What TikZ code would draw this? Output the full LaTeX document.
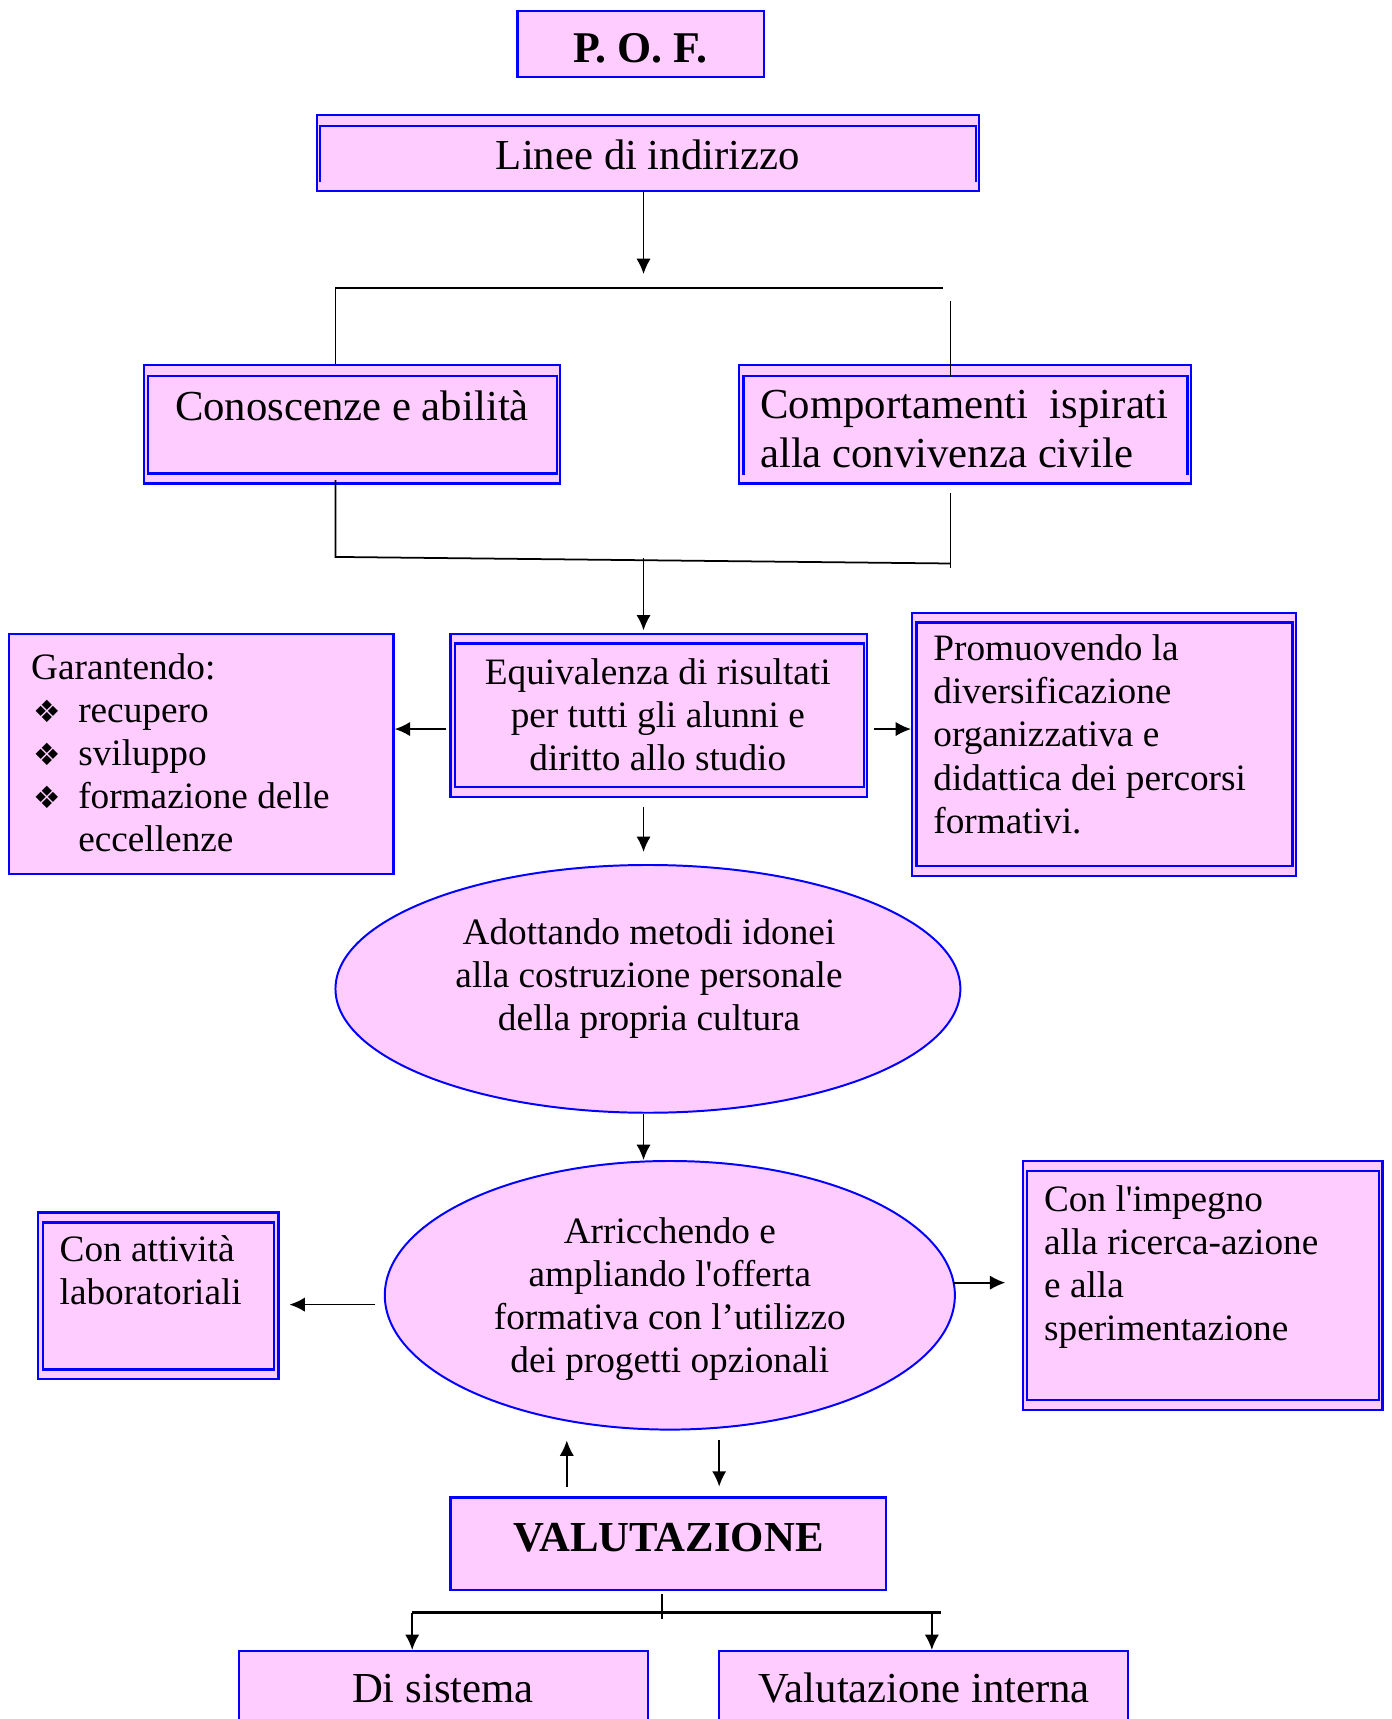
\documentclass[tikz,border=0pt]{standalone}
\usepackage{fontspec}
\setmainfont{Liberation Serif}
\newfontfamily\plainrm{Liberation Serif}
\newfontfamily\dejavu{DejaVu Sans}
\usetikzlibrary{shapes.geometric,arrows.meta,calc}
\definecolor{pinkfill}{HTML}{FFCCFF}
\definecolor{bordblue}{HTML}{0000FF}
\tikzset{
 box/.style={draw=bordblue, fill=pinkfill, line width=1pt, inner sep=0pt, rectangle},
 ell/.style={draw=bordblue, fill=pinkfill, line width=0.9pt, ellipse, inner sep=0pt},
 innerln/.style={draw=bordblue, line width=1.1pt},
 ln/.style={line width=0.8pt, black},
 arr/.style={ln, -{Latex[length=7pt,width=6.5pt]}},
 big/.style={font=\plainrm\fontsize{19.5}{22}\selectfont},
 small/.style={font=\plainrm\fontsize{17}{19.7}\selectfont},
 bigbold/.style={font=\plainrm\fontsize{20}{24}\selectfont\bfseries},
 txt/.style={inner sep=0pt, align=left},
 ctxt/.style={inner sep=0pt, align=center},
}
\newcommand{\bul}{\hspace*{1pt}\makebox[20.5pt][l]{\dejavu\fontsize{14}{14}\selectfont ❖}}
\begin{document}
\begin{tikzpicture}[x=0.5pt,y=-0.5pt]
\clip (0,0) rectangle (1269,1568);
\useasboundingbox (0,0) rectangle (1269,1568);
\fill[white] (0,0) rectangle (1269,1568);

% boxes
\node[box, minimum width=112.5pt, minimum height=30pt] (pof) at (584.5,40) {};
\node[box, minimum width=302pt, minimum height=34.5pt] (linee) at (591,139.5) {};
\node[box, minimum width=190pt, minimum height=54pt] (cono) at (321,387) {};
\node[box, minimum width=206pt, minimum height=54pt] (comp) at (880,387) {};
\node[box, minimum width=190pt, minimum height=74.5pt] (equi) at (601,652.5) {};
\node[box, minimum width=175.5pt, minimum height=109.5pt] (gar) at (183.5,687.5) {};
\node[box, minimum width=175pt, minimum height=120pt] (prom) at (1007,679) {};
\node[ell, minimum width=285pt, minimum height=113pt] (ell1) at (591,902) {};
\node[ell, minimum width=260pt, minimum height=122.5pt] (ell2) at (611,1181.5) {};
\node[box, minimum width=109.5pt, minimum height=76pt] (lab) at (144.5,1182) {};
\node[box, minimum width=164pt, minimum height=113.5pt] (imp) at (1097,1172.5) {};
\node[box, minimum width=198.5pt, minimum height=42pt] (val) at (609.5,1408) {};
\node[box, minimum width=186.5pt, minimum height=47pt] (dis) at (404.5,1553) {};
\node[box, minimum width=186.5pt, minimum height=47pt] (vint) at (842.5,1553) {};

% inner borders
\draw[innerln] ($(linee.south west)+(4,-9)$) |- ($(linee.north east)+(-4,11)$) -- ($(linee.south east)+(-4,-9)$);
\draw[innerln] ($(cono.north west)+(5,11)$) rectangle ($(cono.south east)+(-4,-10)$);
\draw[innerln] ($(comp.south west)+(5,-9)$) |- ($(comp.north east)+(-4,11)$) -- ($(comp.south east)+(-4,-9)$);
\draw[innerln] ($(equi.north west)+(5,10)$) rectangle ($(equi.south east)+(-4,-10)$);
\draw[innerln] ($(prom.north west)+(5,10)$) rectangle ($(prom.south east)+(-4,-10)$);
\draw[innerln] ($(lab.north west)+(5,10)$) rectangle ($(lab.south east)+(-5,-10)$);
\draw[innerln] ($(imp.north west)+(5,10)$) rectangle ($(imp.south east)+(-4,-10)$);

% texts (base anchor = baseline of last line)
\node[ctxt, bigbold, anchor=base] (poft) at (584,57) {P. O. F.};
\node[ctxt, big, anchor=base] (lineet) at (591,155) {Linee di indirizzo};
\node[ctxt, big, anchor=base] (conot) at (321,384) {Conoscenze e abilità};
\node[txt, big, anchor=base west] (compt) at (693,426) {Comportamenti\ \ ispirati\\alla convivenza civile};
\node[ctxt, small, anchor=base] (equit) at (600,703) {Equivalenza di risultati\\per tutti gli alunni e\\diritto allo studio};
\node[txt, small, anchor=base west] (gart) at (28,777) {Garantendo:\\\bul recupero\\\bul sviluppo\\\bul formazione delle\\\hspace*{21.5pt}eccellenze};
\node[txt, small, anchor=base west] (promt) at (851,760) {Promuovendo la\\diversificazione\\organizzativa e\\didattica dei percorsi\\formativi.};
\node[ctxt, small, anchor=base] (ell1t) at (592,940) {Adottando metodi idonei\\alla costruzione personale\\della propria cultura};
\node[ctxt, small, anchor=base] (ell2t) at (611,1252) {Arricchendo e\\ampliando l'offerta\\formativa con l’utilizzo\\dei progetti opzionali};
\node[txt, small, anchor=base west] (labt) at (54,1190) {Con attività\\laboratoriali};
\node[txt, small, anchor=base west] (impt) at (952,1223) {Con l'impegno\\alla ricerca-azione\\e alla\\sperimentazione};
\node[ctxt, font=\plainrm\fontsize{19.5}{22}\selectfont\bfseries, anchor=base] (valt) at (610,1415) {VALUTAZIONE};
\node[ctxt, big, anchor=base] (dist) at (404,1553) {Di sistema};
\node[ctxt, big, anchor=base] (vintt) at (843,1553) {Valutazione interna};

% connectors
\coordinate (xc) at (587,0);
\coordinate (j1) at (587,250);
\draw[arr] (linee.south -| xc) -- (j1);
\coordinate (tl) at (306,263);
\coordinate (tr) at (860,263);
\draw[ln] (cono.north -| tl) -- (tl) -- (tr);
\coordinate (rt) at (867,275);
\draw[ln] (rt) -- ($(comp.north -| rt)+(0,12)$);
\coordinate (bl) at (306,508);
\coordinate (br) at (867,514);
\draw[ln] ($(cono.south -| bl)+(0,-4)$) -- (bl) -- (br);
\draw[ln] ($(comp.south -| br)+(0,8)$) -- ($(br)+(0,4)$);
\coordinate (bc) at (587,509);
\draw[arr] (bc) -- ($(equi.north -| bc)+(0,-2)$);
\coordinate (ya) at (0,665);
\draw[arr] ($(equi.west |- ya)+(-3,0)$) -- (gar.east |- ya);
\draw[arr] ($(equi.east |- ya)+(5,0)$) -- (prom.west |- ya);
\draw[arr] ($(equi.south -| xc)+(0,8)$) -- ($(ell1.north -| xc)+(0,-11)$);
\draw[arr] (ell1.south -| xc) -- (ell2.north -| xc);
\coordinate (yb) at (0,1190);
\draw[arr] ($(ell2.west |- yb)+(-8,0)$) -- ($(lab.east |- yb)+(9,0)$);
\coordinate (yc) at (0,1170);
\draw[arr] ($(ell2.east |- yc)+(-3,0)$) -- ($(imp.west |- yc)+(-15,0)$);
\coordinate (xu) at (517,0);
\coordinate (xd) at (656,0);
\draw[arr] ($(val.north -| xu)+(0,-9)$) -- ($(ell2.south -| xu)+(0,9)$);
\draw[arr] ($(ell2.south -| xd)+(0,9)$) -- ($(val.north -| xd)+(0,-9)$);
\coordinate (xm) at (604,0);
\coordinate (hl) at (376,1471);
\coordinate (hr) at (858,1471);
\draw[ln] ($(val.south -| xm)+(0,3)$) -- ($(val.south -| xm)+(0,26)$);
\draw[ln, line width=1.1pt] (hl) -- (hr);
\draw[arr] (hl) -- (dis.north -| hl);
\coordinate (hr2) at (850,1471);
\draw[arr] (hr2) -- (vint.north -| hr2);
\end{tikzpicture}
\end{document}
